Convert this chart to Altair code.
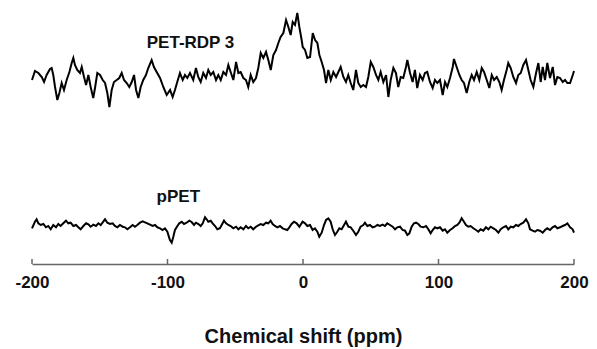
import altair as alt
import pandas as pd

# ---- PET-RDP 3 spectrum (chemical shift in ppm, intensity in arbitrary units) ----
top_ppm = [-200, -197.8, -195.3, -192.8, -191.1, -189.2, -186.7, -185.5, -184.3, -183.0,
           -181.3, -179.8, -178.1, -176.4, -174.4, -172.4, -170.7, -169.5, -168.3, -166.6,
           -164.6, -163.3, -161.6, -160.1, -158.4, -156.7, -154.8, -153.5, -151.8, -149.8,
           -147.8, -146.1, -144.4, -142.9, -141.2, -139.5, -137.5, -135.6, -133.8, -132.1,
           -130.1, -128.2, -126.4, -124.7, -123.2, -121.5, -119.8, -117.9, -115.9, -114.2,
           -111.7, -110.0, -108.0, -105.5, -103.1, -100.6, -98.1, -96.2, -94.5, -92.8,
           -90.8, -88.8, -87.1, -85.4, -83.4, -81.0, -79.0, -77.3, -75.5, -73.6,
           -71.6, -69.9, -68.1, -66.2, -64.2, -62.5, -60.7, -58.8, -56.8, -55.1,
           -53.4, -51.4, -49.4, -47.7, -46.0, -44.0, -42.1, -40.4, -38.6, -36.7,
           -34.7, -33.0, -31.2, -29.3, -27.3, -25.6, -23.8, -21.9, -19.9, -18.2,
           -16.5, -14.5, -12.5, -10.8, -9.1, -7.6, -5.9, -4.2, -2.7, -1.0,
           -0.2, 1.5, 3.2, 5.2, 7.2, 8.9, 10.6, 12.1, 13.8, 15.5,
           17.0, 18.7, 20.5, 22.4, 24.4, 26.1, 27.8, 29.8, 31.7, 33.4,
           35.2, 37.1, 39.1, 40.8, 42.6, 44.5, 46.5, 48.2, 50.0, 51.9,
           53.9, 55.6, 57.3, 59.3, 61.3, 63.0, 64.7, 66.7, 68.6, 70.3,
           72.1, 74.0, 76.0, 77.0, 79.0, 80.9, 82.6, 84.3, 86.3, 88.3,
           90.0, 91.7, 93.7, 95.7, 97.4, 99.1, 101.1, 103.1, 104.8, 106.5,
           108.5, 110.5, 111.4, 113.4, 115.4, 117.1, 118.8, 120.8, 122.7, 124.5,
           126.2, 128.2, 130.1, 131.9, 133.6, 135.6, 137.5, 139.3, 141.0, 143.0,
           144.9, 146.6, 148.3, 150.3, 151.5, 153.3, 155.2, 157.2, 158.9, 160.7,
           162.6, 164.6, 166.3, 168.0, 170.0, 172.0, 173.7, 175.4, 176.9, 178.6,
           180.3, 182.3, 184.3, 186.0, 187.7, 189.7, 191.7, 193.4, 195.1, 197.1,
           199.1, 200]
top_int = [184, 193, 191, 187, 182, 189, 195, 196, 189, 177,
           164, 171, 181, 174, 184, 192, 201, 206, 199, 194,
           191, 197, 187, 179, 189, 177, 166, 176, 191, 189,
           184, 181, 171, 157, 174, 182, 184, 186, 191, 184,
           181, 177, 182, 189, 174, 166, 177, 184, 189, 196,
           204, 197, 192, 186, 177, 169, 174, 167, 174, 182,
           191, 184, 189, 186, 191, 184, 196, 187, 182, 191,
           186, 194, 189, 192, 184, 189, 184, 192, 189, 199,
           192, 184, 202, 191, 192, 186, 184, 177, 189, 182,
           186, 196, 211, 206, 212, 204, 194, 209, 214, 221,
           227, 231, 244, 237, 229, 242, 239, 251, 237, 224,
           217, 214, 206, 207, 231, 224, 221, 209, 202, 194,
           181, 194, 184, 192, 187, 192, 197, 187, 182, 189,
           181, 174, 194, 181, 177, 179, 177, 187, 202, 197,
           189, 184, 192, 182, 189, 167, 184, 196, 191, 177,
           187, 186, 197, 204, 191, 182, 194, 176, 189, 184,
           191, 192, 182, 176, 184, 181, 184, 169, 182, 177,
           186, 197, 205, 197, 189, 184, 181, 171, 182, 189,
           184, 192, 184, 196, 192, 184, 176, 189, 184, 187,
           182, 174, 184, 194, 201, 196, 187, 181, 189, 191,
           199, 204, 194, 184, 177, 191, 201, 182, 197, 184,
           201, 186, 197, 179, 187, 186, 182, 184, 181, 181,
           189, 193]

# ---- pPET spectrum ----
bot_ppm = [-200, -197.8, -196.6, -195.3, -193.6, -191.6, -189.7, -188.0, -186.2, -184.3,
           -182.3, -180.6, -178.9, -176.9, -174.9, -173.2, -171.5, -169.5, -167.5, -165.8,
           -164.1, -162.1, -160.1, -158.4, -156.7, -154.7, -152.8, -151.0, -149.3, -147.4,
           -146.1, -144.4, -142.4, -140.5, -138.8, -137.0, -135.1, -133.1, -131.4, -129.6,
           -127.7, -125.7, -124.0, -122.3, -120.3, -118.3, -116.6, -114.9, -112.9, -111.0,
           -109.2, -107.5, -105.5, -103.6, -101.9, -100.1, -98.2, -96.9, -95.7, -94.5,
           -92.7, -91.3, -89.5, -87.8, -85.9, -83.9, -82.2, -80.4, -79.0, -77.2,
           -75.5, -74.0, -72.3, -71.1, -69.9, -68.1, -66.7, -64.9, -63.2, -61.3,
           -59.3, -58.3, -56.8, -55.1, -53.4, -51.4, -49.4, -47.7, -46.0, -44.0,
           -42.1, -40.4, -38.6, -36.7, -34.7, -33.0, -31.2, -29.3, -27.3, -25.6,
           -23.9, -22.4, -20.7, -18.9, -17.0, -15.0, -13.3, -11.6, -10.1, -8.4,
           -6.6, -4.7, -2.7, -0.3, 1.5, 3.2, 5.2, 7.1, 8.8, 10.6,
           12.0, 13.8, 15.5, 17.0, 18.7, 20.4, 21.9, 23.6, 25.3, 26.8,
           28.5, 30.3, 31.7, 33.5, 35.2, 37.1, 39.1, 40.8, 42.5, 44.5,
           45.7, 47.5, 49.4, 51.4, 53.1, 54.9, 56.8, 58.8, 60.5, 62.2,
           64.2, 66.2, 67.9, 69.6, 71.6, 73.5, 75.3, 77.0, 78.5, 80.2,
           81.9, 83.4, 85.1, 86.8, 88.8, 90.8, 92.5, 94.2, 95.7, 97.4,
           99.1, 101.1, 103.1, 104.8, 106.5, 108.5, 110.4, 112.2, 113.9, 115.4,
           117.1, 118.3, 120.3, 122.0, 123.7, 125.7, 127.7, 129.4, 131.1, 133.1,
           135.0, 136.8, 138.5, 140.5, 142.4, 144.2, 145.9, 147.8, 149.8, 151.5,
           153.3, 155.2, 157.2, 158.9, 160.6, 162.6, 164.6, 166.3, 167.5, 169.5,
           171.2, 172.9, 174.9, 176.9, 178.6, 180.3, 182.3, 184.2, 186.0, 187.7,
           189.7, 191.6, 193.4, 195.1, 197.1, 199.0, 200]
bot_int = [35.7, 42.3, 44.7, 40.7, 39, 40, 36.7, 38, 34.7, 39,
           36.7, 40, 38, 40.7, 43.3, 40.7, 41.3, 38, 39, 36.7,
           34.7, 38, 40.7, 39.7, 37.3, 39.3, 38, 40.7, 39, 42.3,
           44.7, 41.3, 40, 40.7, 38, 36.7, 39, 37.3, 36.7, 34.7,
           36.7, 39, 37.3, 39, 41.3, 42.7, 41.7, 40.7, 39.3, 38,
           39, 36.7, 35.7, 34, 35.7, 32.3, 24, 21.3, 27.3, 34,
           38, 40.7, 42.3, 40, 41.3, 43.3, 42, 39, 41.3, 40,
           38, 40.7, 46.7, 44.7, 42.3, 43.3, 40.7, 38, 34.7, 35.7,
           40.7, 43.3, 40.7, 39, 38, 35.7, 37.3, 34.7, 36.7, 34.7,
           38, 35.7, 37.3, 34.7, 37.3, 38.7, 40, 39, 41.3, 40.7,
           43.3, 40, 38, 36.7, 38, 35.7, 34.7, 34, 36.7, 40,
           42.3, 40.7, 37.3, 42.3, 40.7, 38, 39, 34, 35.7, 32.3,
           27.3, 31.3, 39, 44, 45.7, 42.3, 34.7, 29, 32.3, 35.7,
           34.7, 39, 42.3, 37.3, 36.7, 33.3, 29, 32.3, 37.3, 39,
           41.3, 38, 39, 36.7, 37.3, 39, 38, 39.3, 38, 40.7,
           39, 37.3, 34.7, 36.7, 37.3, 34, 33.3, 29, 30.7, 37.3,
           40.7, 41.3, 40, 37.3, 36.7, 38, 34.7, 30.7, 34, 36.7,
           35.7, 36.7, 33.3, 34.7, 31.3, 34, 35.7, 38, 39, 41.3,
           45.7, 43.3, 39, 37.3, 38, 35.7, 34, 32.3, 34.7, 33.3,
           36.7, 34.7, 37.3, 35.7, 34, 31.3, 34.7, 36.7, 38, 34.7,
           37.3, 36.7, 39, 38, 40, 41.3, 44.7, 40.7, 34.7, 33.3,
           32.3, 34, 33.3, 31.3, 34, 35.7, 34, 36.7, 38, 35.7,
           36.7, 38, 39, 40.7, 36.7, 34.7, 31.3]

tick_values = [-200, -100, 0, 100, 200]
label_text = ["PET-RDP 3", "pPET"]
label_ppm = [-83, -92]
label_int = [221, 67]

FONT = "Liberation Sans"

df = pd.concat([
    pd.DataFrame({"ppm": top_ppm, "intensity": top_int, "sample": "PET-RDP 3"}),
    pd.DataFrame({"ppm": bot_ppm, "intensity": bot_int, "sample": "pPET"}),
], ignore_index=True)

xscale = alt.Scale(domain=[-200, 200], nice=False, zero=False)
yscale = alt.Scale(domain=[0, 264], nice=False, zero=False)

x_enc = alt.X(
    "ppm:Q", scale=xscale,
    axis=alt.Axis(
        values=tick_values, ticks=False, tickSize=0, grid=False,
        domainColor="#666666", domainWidth=1.5,
        labelExpr="'' + datum.value",
        labelFont=FONT, labelFontWeight="bold", labelFontSize=17,
        labelColor="#111111", labelPadding=10, labelFlush=False,
        title="Chemical shift (ppm)", titleFont=FONT, titleFontSize=20,
        titleFontWeight="bold", titleColor="#111111", titleY=72,
        titleBaseline="middle",
    ),
)
y_enc = alt.Y("intensity:Q", scale=yscale, axis=None)

lines = alt.Chart(df).mark_line(color="black", strokeWidth=2).encode(
    x=x_enc, y=y_enc, detail="sample:N"
)

ticks = alt.Chart(pd.DataFrame({"ppm": tick_values})).mark_rule(
    color="#666666", strokeWidth=1.5
).encode(x=x_enc, y=alt.value(259), y2=alt.value(264))

labels = alt.Chart(pd.DataFrame({"ppm": label_ppm, "intensity": label_int, "text": label_text})).mark_text(
    font=FONT, fontWeight="bold", fontSize=17, baseline="middle", color="#111111"
).encode(x=x_enc, y=y_enc, text="text:N")

chart = alt.layer(lines, ticks, labels).properties(
    width=542, height=264,
    autosize=alt.AutoSizeParams(type="none"),
    padding={"left": 32, "top": 0, "right": 23, "bottom": 85},
).configure_view(stroke=None)

chart.save("out.html", embed_options={"renderer": "svg", "actions": False})
